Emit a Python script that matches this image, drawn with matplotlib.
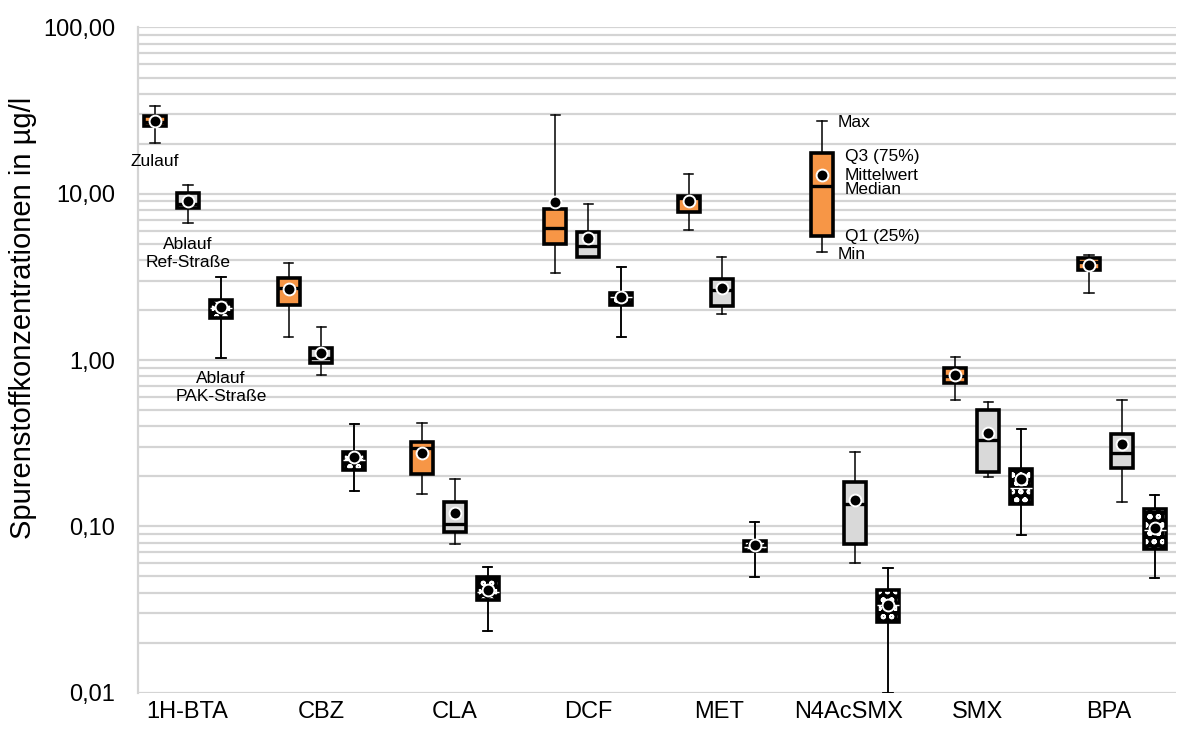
import matplotlib
matplotlib.use("Agg")
import matplotlib.pyplot as plt
from matplotlib.ticker import FixedLocator, NullFormatter

plt.rcParams['font.family'] = ['Liberation Sans', 'DejaVu Sans']
plt.rcParams['hatch.linewidth'] = 1.4

substances = ['1H-BTA', 'CBZ', 'CLA', 'DCF', 'MET', 'N4AcSMX', 'SMX', 'BPA']

# statistics per series, one value per substance
# Zulauf
zu_min = [20.1, 1.37, 0.157, 3.35, 6.06, 4.49, 0.576, 2.53]
zu_q1 = [25.7, 2.14, 0.206, 4.97, 7.81, 5.57, 0.728, 3.48]
zu_med = [27.2, 2.70, 0.295, 6.20, 9.40, 11.1, 0.80, 3.90]
zu_q3 = [29.4, 3.10, 0.323, 8.10, 9.70, 17.5, 0.897, 4.11]
zu_max = [33.7, 3.82, 0.420, 29.6, 13.2, 27.4, 1.04, 4.29]
zu_mean = [27.4, 2.67, 0.278, 8.97, 9.08, 13.0, 0.813, 3.73]

# Ablauf Ref-Strasse
ref_min = [6.70, 0.813, 0.0787, 4.15, 1.89, 0.0603, 0.198, 0.141]
ref_q1 = [8.18, 0.964, 0.0925, 4.19, 2.11, 0.0784, 0.212, 0.224]
ref_med = [8.68, 1.025, 0.1033, 4.86, 2.64, 0.136, 0.331, 0.278]
ref_q3 = [10.07, 1.19, 0.141, 5.87, 3.07, 0.185, 0.501, 0.360]
ref_max = [11.35, 1.59, 0.192, 8.72, 4.15, 0.280, 0.560, 0.576]
ref_mean = [9.08, 1.10, 0.121, 5.45, 2.73, 0.144, 0.365, 0.313]

# Ablauf PAK-Strasse
pak_min = [1.025, 0.164, 0.0236, 1.38, 0.0496, 0.0100, 0.0888, 0.0487]
pak_q1 = [1.80, 0.218, 0.0361, 2.14, 0.0711, 0.0265, 0.136, 0.0728]
pak_med = [2.05, 0.251, 0.0405, 2.41, 0.0750, 0.0337, 0.170, 0.095]
pak_q3 = [2.30, 0.280, 0.0499, 2.54, 0.0817, 0.0415, 0.221, 0.128]
pak_max = [3.15, 0.411, 0.0572, 3.63, 0.106, 0.0565, 0.385, 0.154]
pak_mean = [2.08, 0.260, 0.0415, 2.39, 0.0773, 0.0337, 0.193, 0.098]

y_ticks = [0.01, 0.1, 1, 10, 100]
y_labels = ['0,01', '0,10', '1,00', '10,00', '100,00']


def stats(mn, q1, med, q3, mx, mean):
    return [dict(whislo=a, q1=b, med=c, q3=d, whishi=e, mean=f, fliers=[])
            for a, b, c, d, e, f in zip(mn, q1, med, q3, mx, mean)]


fig = plt.figure(figsize=(11.78, 7.33), dpi=100)
ax = fig.add_axes([137.5 / 1178, 40.3 / 733, 1038.5 / 1178, 665.2 / 733])

ax.set_yscale('log')
ax.set_ylim(0.01, 100)
ax.set_xlim(-0.379, 7.406)

# grid
grid_vals = [m * 10.0 ** e for e in range(-2, 2) for m in range(1, 10)] + [100]
for g in grid_vals:
    ax.axhline(g, color='#d4d4d4', lw=1.6, zorder=0)

n = len(substances)
off = 0.247
w = 0.165
whisk = dict(color='black', lw=1.1)
caps = dict(color='black', lw=1.1)
medp = dict(color='black', lw=2.4)
meanp = dict(marker='o', markerfacecolor='black', markeredgecolor='white',
             markeredgewidth=1.4, markersize=8.5)

common = dict(widths=w, patch_artist=True, showmeans=True, showfliers=False,
              whiskerprops=whisk, capprops=caps, capwidths=0.07,
              manage_ticks=False)

# Zulauf
ax.bxp(stats(zu_min, zu_q1, zu_med, zu_q3, zu_max, zu_mean),
       positions=[i - off for i in range(n)],
       boxprops=dict(facecolor='#f79646', edgecolor='black', lw=2.6),
       medianprops=medp, meanprops=meanp, **common)
# Ref
ax.bxp(stats(ref_min, ref_q1, ref_med, ref_q3, ref_max, ref_mean),
       positions=list(range(n)),
       boxprops=dict(facecolor='#d9d9d9', edgecolor='black', lw=2.6),
       medianprops=medp, meanprops=meanp, **common)
# PAK: black with white dotted pattern
pak = stats(pak_min, pak_q1, pak_med, pak_q3, pak_max, pak_mean)
pak_pos = [i + off for i in range(n)]
ax.bxp(pak, positions=pak_pos,
       boxprops=dict(facecolor='black', edgecolor='white', lw=0, hatch='oo'),
       medianprops=dict(color='white', lw=1.0), meanprops=dict(marker=''),
       **common)
ax.bxp(pak, positions=pak_pos,
       boxprops=dict(facecolor='none', edgecolor='black', lw=2.6),
       medianprops=dict(lw=0), meanprops=meanp, **common)

# axes styling
for s in ['top', 'right', 'bottom']:
    ax.spines[s].set_visible(False)
ax.spines['left'].set_color('#d4d4d4')
ax.spines['left'].set_linewidth(1.6)

ax.yaxis.set_major_locator(FixedLocator(y_ticks))
ax.set_yticklabels(y_labels)
ax.yaxis.set_minor_formatter(NullFormatter())
ax.tick_params(axis='y', which='both', length=0, pad=16, labelsize=17)
ax.tick_params(axis='x', length=0, pad=6, labelsize=17)
ax.set_xticks([-0.004, 0.997, 2.0, 3.0, 3.98, 4.95, 5.92, 6.9])
ax.set_xticklabels(substances)
ax.set_ylabel('Spurenstoffkonzentrationen in µg/l', fontsize=21)
ax.yaxis.set_label_coords(-100 / 1038.5, 0.563)

# annotations for series
fs = 12.5
ax.text(-off, 20.1 * 0.86, 'Zulauf', ha='center', va='top', fontsize=fs)
ax.text(0, 6.70 * 0.82, 'Ablauf\nRef-Straße', ha='center', va='top',
        fontsize=fs, linespacing=1.25)
ax.text(off, 1.025 * 0.84, 'Ablauf\nPAK-Straße', ha='center', va='top',
        fontsize=fs, linespacing=1.25)

# legend-like labels next to N4AcSMX Zulauf box
k = substances.index('N4AcSMX')
xl = k - off + 0.12
ax.text(xl, zu_max[k] * 0.98, 'Max', va='center', fontsize=fs)
ax.text(xl + 0.05, zu_q3[k] * 0.96, 'Q3 (75%)', va='center', fontsize=fs)
ax.text(xl + 0.05, zu_mean[k] * 0.99, 'Mittelwert', va='center', fontsize=fs)
ax.text(xl + 0.05, zu_med[k] * 0.96, 'Median', va='center', fontsize=fs)
ax.text(xl + 0.05, zu_q1[k] * 1.0, 'Q1 (25%)', va='center', fontsize=fs)
ax.text(xl, zu_min[k] * 0.96, 'Min', va='center', fontsize=fs)

fig.savefig('out.png', dpi=100)
